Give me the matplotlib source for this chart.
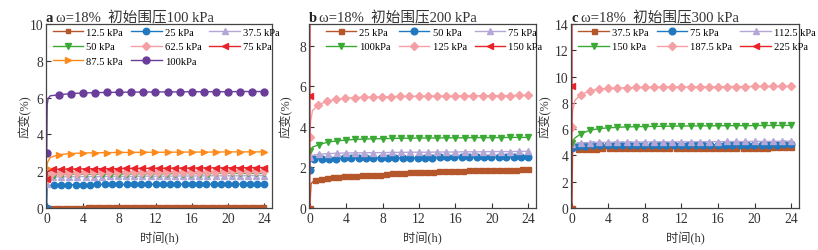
import numpy as np
import matplotlib
matplotlib.use("Agg")
import matplotlib.pyplot as plt
from matplotlib.lines import Line2D

plt.rcParams['font.family'] = ['Liberation Serif', 'Noto Sans CJK SC']

# ---------------- data (strain %, time h) ----------------
# each series: a few early readings (time, value) + regular readings up to 24 h
# panel a : initial confining pressure 100 kPa
a_labels = ["12.5 kPa", "25 kPa", "37.5 kPa", "50 kPa", "62.5 kPa", "75 kPa", "87.5 kPa", "100kPa"]
a_early_t = [[0.0], [0.0, 0.05], [0.0, 0.1], [0.0, 0.1], [0.0, 0.1], [0.0, 0.1],
             [0.0, 0.1, 0.4], [0.0, 0.05, 0.15, 0.4]]
a_early_v = [[0.0], [0.0, 1.2], [1.3, 1.6], [1.5, 1.78], [1.6, 1.85], [1.55, 2.0],
             [2.2, 2.5, 2.75], [3.0, 5.6, 5.95, 6.1]]
a_first_t = [0.5, 0.8, 0.7, 0.8, 0.6, 0.7, 1.33, 1.33]
a_v_125 = [0.02, 0.02, 0.02, 0.02, 0.02, 0.02, 0.02, 0.02, 0.03, 0.03, 0.03, 0.03,
           0.03, 0.03, 0.03, 0.03, 0.03, 0.03, 0.03, 0.03, 0.03, 0.03, 0.03, 0.03,
           0.03, 0.03, 0.04, 0.04, 0.04, 0.04, 0.04, 0.04, 0.04, 0.04, 0.04, 0.04,
           0.04, 0.04, 0.04, 0.04, 0.04, 0.04, 0.04, 0.04, 0.04, 0.04, 0.04, 0.04]
a_v_25 = [1.25, 1.26, 1.26, 1.27, 1.27, 1.27, 1.28, 1.28, 1.28, 1.28, 1.28, 1.29, 1.29, 1.29, 1.29,
          1.29, 1.29, 1.29, 1.3, 1.3, 1.3, 1.3, 1.3, 1.3, 1.3, 1.3, 1.3, 1.31, 1.31, 1.31]
a_v_375 = [1.68, 1.69, 1.7, 1.7, 1.71, 1.71, 1.71, 1.72, 1.72, 1.72, 1.72, 1.73, 1.73, 1.73,
           1.73, 1.74, 1.74, 1.74, 1.74, 1.75, 1.75, 1.75, 1.75, 1.75, 1.76, 1.76, 1.76]
a_v_50 = [1.82, 1.83, 1.83, 1.84, 1.84, 1.84, 1.85, 1.85, 1.85, 1.85, 1.86, 1.86, 1.86, 1.86,
          1.86, 1.87, 1.87, 1.87, 1.87, 1.87, 1.88, 1.88, 1.88, 1.88, 1.88, 1.88, 1.88]
a_v_625 = [1.9, 1.91, 1.92, 1.92, 1.93, 1.93, 1.94, 1.94, 1.94, 1.95, 1.95, 1.95, 1.96, 1.96,
           1.96, 1.97, 1.97, 1.97, 1.98, 1.98, 1.98, 1.98, 1.99, 1.99, 1.99, 2.0, 2.0]
a_v_75 = [2.1, 2.11, 2.12, 2.12, 2.13, 2.13, 2.14, 2.14, 2.14, 2.15, 2.15, 2.15, 2.16, 2.16,
          2.16, 2.17, 2.17, 2.17, 2.18, 2.18, 2.18, 2.18, 2.19, 2.19, 2.19, 2.2, 2.2]
a_v_875 = [2.9, 2.96, 2.99, 3.0, 3.01, 3.02, 3.02, 3.03, 3.03, 3.03, 3.04, 3.04, 3.04, 3.04,
           3.05, 3.05, 3.05, 3.05]
a_v_100 = [6.15, 6.22, 6.25, 6.27, 6.28, 6.29, 6.3, 6.3, 6.31, 6.31, 6.31, 6.32, 6.32, 6.32,
           6.32, 6.33, 6.33, 6.33]
a_vals = [a_v_125, a_v_25, a_v_375, a_v_50, a_v_625, a_v_75, a_v_875, a_v_100]

# panel b : initial confining pressure 200 kPa
b_labels = ["25 kPa", "50 kPa", "75 kPa", "100kPa", "125 kPa", "150 kPa"]
b_early_t = [[0.0, 0.15], [0.0, 0.05], [0.0, 0.3], [0.0, 0.3], [0.0, 0.1, 0.3], [0.0, 0.02, 0.04]]
b_early_v = [[0.0, 1.2], [1.85, 2.3], [2.5, 2.6], [2.8, 3.0], [3.5, 4.3, 4.8], [0.0, 5.53, 40.0]]
b_first_t = [0.55, 0.5, 1.0, 1.0, 0.9, 24.0]
b_v_25 = [1.38, 1.45, 1.5, 1.52, 1.54, 1.56, 1.58, 1.6, 1.61, 1.62, 1.63, 1.65, 1.7, 1.71, 1.72,
          1.73, 1.75, 1.76, 1.77, 1.78, 1.79, 1.8, 1.81, 1.82, 1.83, 1.84, 1.85, 1.85, 1.86,
          1.87, 1.87, 1.88, 1.88, 1.89, 1.89, 1.9, 1.9]
b_v_50 = [2.42, 2.43, 2.44, 2.44, 2.45, 2.45, 2.46, 2.46, 2.46, 2.47, 2.47, 2.47, 2.47, 2.48,
          2.48, 2.48, 2.48, 2.49, 2.49, 2.49, 2.49, 2.49, 2.5, 2.5, 2.5, 2.5, 2.5, 2.5, 2.51, 2.51]
b_v_75 = [2.65, 2.68, 2.7, 2.71, 2.72, 2.72, 2.73, 2.73, 2.74, 2.74, 2.75, 2.75, 2.75, 2.76,
          2.76, 2.76, 2.77, 2.77, 2.77, 2.78, 2.78, 2.78, 2.79, 2.79]
b_v_100 = [3.12, 3.25, 3.31, 3.35, 3.38, 3.4, 3.41, 3.42, 3.43, 3.44, 3.44, 3.45, 3.45, 3.45,
           3.46, 3.46, 3.46, 3.47, 3.47, 3.47, 3.47, 3.48, 3.48, 3.48]
b_v_125 = [5.07, 5.27, 5.36, 5.41, 5.44, 5.46, 5.47, 5.48, 5.49, 5.5, 5.5, 5.51, 5.51, 5.52,
           5.52, 5.52, 5.53, 5.53, 5.53, 5.54, 5.54, 5.54, 5.55, 5.55]
b_v_150 = []
b_vals = [b_v_25, b_v_50, b_v_75, b_v_100, b_v_125, b_v_150]

# panel c : initial confining pressure 300 kPa
c_labels = ["37.5 kPa", "75 kPa", "112.5 kPa", "150 kPa", "187.5 kPa", "225 kPa"]
c_early_t = [[0.0, 0.1], [0.0, 0.05], [0.0, 0.3], [0.0, 0.3], [0.0, 0.1, 0.35], [0.0, 0.02, 0.04]]
c_early_v = [[0.0, 4.4], [4.6, 4.7], [4.85, 4.92], [4.95, 5.3], [6.2, 7.4, 8.2], [0.0, 9.26, 60.0]]
c_first_t = [0.7, 0.7, 1.0, 1.0, 1.0, 24.0]
c_v_375 = [4.5, 4.51, 4.52, 4.52, 4.53, 4.53, 4.54, 4.54, 4.54, 4.55, 4.55, 4.55, 4.56, 4.56,
           4.56, 4.56, 4.57, 4.57, 4.57, 4.57, 4.58, 4.58, 4.58, 4.58, 4.59, 4.59, 4.59, 4.59,
           4.6, 4.6, 4.6, 4.6, 4.61, 4.61, 4.61, 4.62]
c_v_75 = [4.74, 4.75, 4.76, 4.76, 4.77, 4.77, 4.78, 4.78, 4.78, 4.79, 4.79, 4.79, 4.8, 4.8,
          4.8, 4.8, 4.81, 4.81, 4.81, 4.81, 4.82, 4.82, 4.82, 4.82, 4.83, 4.83, 4.83, 4.83,
          4.84, 4.84]
c_v_1125 = [4.96, 4.98, 4.99, 5.0, 5.01, 5.01, 5.02, 5.02, 5.03, 5.03, 5.04, 5.04, 5.04, 5.05,
            5.05, 5.05, 5.06, 5.06, 5.06, 5.07, 5.07, 5.07, 5.08, 5.08]
c_v_150 = [5.65, 5.92, 6.04, 6.1, 6.14, 6.17, 6.19, 6.2, 6.21, 6.22, 6.23, 6.24, 6.24, 6.25,
           6.25, 6.26, 6.26, 6.27, 6.27, 6.27, 6.28, 6.28, 6.28, 6.29]
c_v_1875 = [8.62, 8.93, 9.05, 9.1, 9.13, 9.15, 9.17, 9.18, 9.19, 9.2, 9.21, 9.21, 9.22, 9.22,
            9.23, 9.23, 9.24, 9.24, 9.24, 9.25, 9.25, 9.25, 9.26, 9.26]
c_v_225 = []
c_vals = [c_v_375, c_v_75, c_v_1125, c_v_150, c_v_1875, c_v_225]

titles = ["ω=18%  初始围压100 kPa", "ω=18%  初始围压200 kPa", "ω=18%  初始围压300 kPa"]
letters = ["a", "b", "c"]
ylims = [(0, 10), (0, 9.07), (0, 14)]
yticks = [np.arange(0, 11, 2), np.arange(0, 9, 2), np.arange(0, 15, 2)]

# ---------------- styles ----------------
BROWN, BLUE, LAV, GREEN = "#b5562b", "#2078c0", "#b4a7d6", "#3aaa35"
PINK, RED, ORANGE, PURPLE = "#f4a0a4", "#e8232a", "#ff8a1c", "#6a3d9a"
a_style = [(BROWN, "s", 2.6), (BLUE, "o", 4.6), (LAV, "^", 4.8), (GREEN, "v", 4.8),
           (PINK, "D", 4.0), (RED, "<", 4.8), (ORANGE, ">", 4.8), (PURPLE, "o", 5.0)]
b_style = [(BROWN, "s", 3.6), (BLUE, "o", 4.8), (LAV, "^", 4.8), (GREEN, "v", 4.8),
           (PINK, "D", 4.0), (RED, "<", 4.8)]
c_style = b_style

positions = [(46, 226), (309, 227), (571, 228)]
leg_x = [0.015, 0.059, 0.018]
ylab_x = [-0.062, -0.07, -0.083]


def build(early_t, early_v, t_first, vals):
    t = np.concatenate([np.array(early_t, float), np.linspace(t_first, 24, len(vals))])
    v = np.concatenate([np.array(early_v, float), np.array(vals, float)])
    if len(vals) == 0:
        every = [1]
    else:
        every = [0] + list(range(len(early_t), len(t)))
    return t, v, every


fig = plt.figure(figsize=(8.18, 2.51), dpi=100)
panels = [(a_labels, a_early_t, a_early_v, a_first_t, a_vals, a_style),
          (b_labels, b_early_t, b_early_v, b_first_t, b_vals, b_style),
          (c_labels, c_early_t, c_early_v, c_first_t, c_vals, c_style)]

for k, (labels, et, ev, tf, vals, style) in enumerate(panels):
    left, width = positions[k]
    ax = fig.add_axes([left / 818, 42 / 251, width / 818, 184 / 251])
    handles = []
    for i in range(len(labels)):
        t, v, every = build(et[i], ev[i], tf[i], vals[i])
        col, mk, ms = style[i]
        ax.plot(t, v, color=col, lw=1.0, marker=mk, ms=ms, markevery=every,
                mec=col, mfc=col, clip_on=True)
        handles.append(Line2D([], [], color=col, lw=1.0, marker=mk, ms=ms, mec=col, mfc=col))

    ax.set_xlim(-0.08, 24.85)
    ax.set_ylim(*ylims[k])
    ax.set_xticks(np.arange(0, 25, 4))
    ax.set_yticks(yticks[k])
    ax.tick_params(direction="in", length=3.5, width=0.8, labelsize=9.8, colors="#333333")
    ax.tick_params(axis="x", pad=3.0)
    ax.tick_params(axis="y", pad=1.8)
    for sp in ax.spines.values():
        sp.set_color("#444444")
        sp.set_linewidth(0.9)

    ax.set_xlabel("时间(h)", fontsize=8.8, color="#333333")
    ax.xaxis.set_label_coords(0.5, -0.125)
    ax.set_ylabel("应变(%)", fontsize=8.8, color="#333333")
    ax.yaxis.set_label_coords(ylab_x[k], 0.5)

    ax.text(0.0, 1.016, letters[k], transform=ax.transAxes, fontsize=10.5,
            fontweight="bold", va="baseline", ha="left", color="#222222")
    ax.annotate(titles[k], xy=(0.0, 1.016), xycoords="axes fraction",
                xytext=(7.2, 0), textcoords="offset points", fontsize=10.5,
                va="baseline", ha="left", color="#333333")

    # legend laid out row by row, 3 columns
    n = len(labels)
    order = [r * 3 + c for c in range(3) for r in range((n + 2) // 3) if r * 3 + c < n]
    ax.legend([handles[j] for j in order], [labels[j] for j in order], ncol=3,
              loc="upper left", bbox_to_anchor=(leg_x[k], 1.0), frameon=False,
              fontsize=7.6, handlelength=2.9, handletextpad=0.3, columnspacing=0.75,
              labelspacing=0.5, borderpad=0.3, borderaxespad=0.0, numpoints=1)

fig.savefig("out.png", dpi=100)
